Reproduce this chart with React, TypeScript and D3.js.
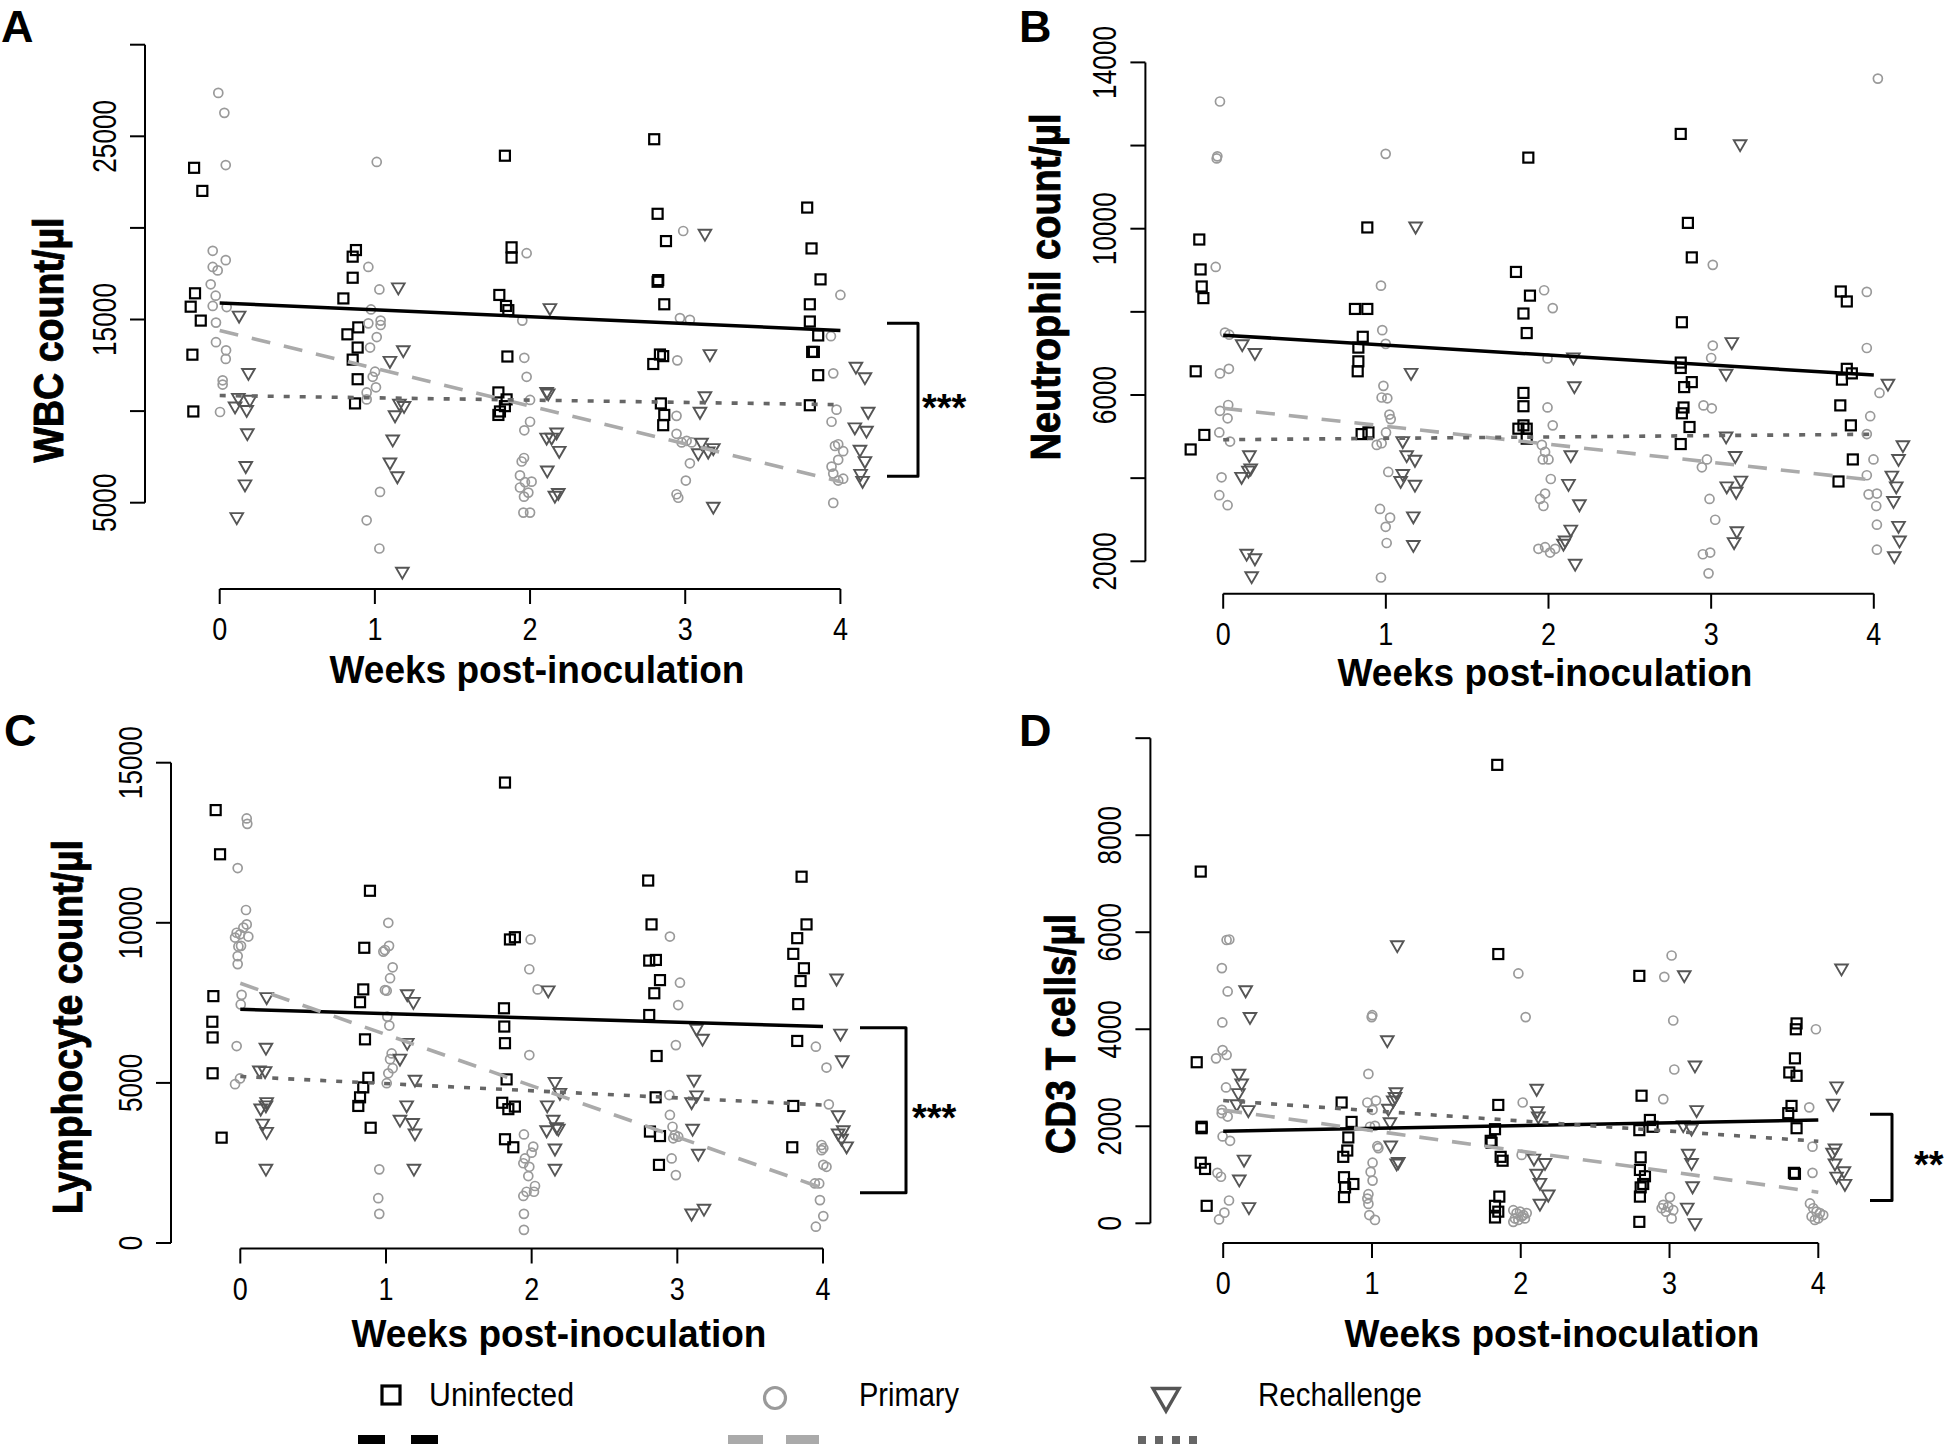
import * as React from 'react';
import * as d3 from 'd3';

type Pt = [number, number];

// x = week (+ jitter as drawn), y = cells/µl

// ---------- A: WBC ----------
const wbcUninfected: Pt[] = [
  [-0.165, 23280], [-0.112, 22020], [-0.159, 16430], [-0.187, 15700], [-0.122, 14940], [-0.176, 13080], [-0.170, 9980],
  [0.878, 18790], [0.857, 18430], [0.857, 17280], [0.797, 16150], [0.893, 14570], [0.823, 14190], [0.889, 13470], [0.857, 12810], [0.889, 11740], [0.872, 10420],
  [1.838, 23940], [1.881, 18940], [1.881, 18380], [1.802, 16340], [1.845, 15740], [1.860, 15510], [1.854, 12980], [1.796, 11020], [1.849, 10640], [1.838, 10270], [1.806, 9980], [1.796, 9790],
  [2.800, 24840], [2.822, 20770], [2.876, 19280], [2.826, 17150], [2.822, 17060], [2.865, 15830], [2.837, 13090], [2.858, 13000], [2.794, 12570], [2.843, 10420], [2.865, 9790], [2.858, 9230],
  [3.786, 21110], [3.814, 18880], [3.872, 17190], [3.803, 15830], [3.803, 14890], [3.857, 14130], [3.818, 13230], [3.829, 13230], [3.857, 11960], [3.803, 10320],
];
const wbcPrimary: Pt[] = [
  [-0.009, 27370], [0.030, 26280], [0.039, 23430], [-0.045, 18750], [0.039, 18240], [-0.045, 17870], [-0.013, 17680], [-0.058, 16920], [-0.026, 16300], [-0.045, 15740], [0.045, 15680], [-0.024, 14830], [-0.024, 13760], [0.041, 13320], [0.039, 12850], [0.019, 11680], [0.019, 11450], [0.002, 9950],
  [1.012, 23600], [0.958, 17870], [1.029, 16640], [0.975, 15550], [0.958, 14790], [1.037, 14940], [1.037, 14700], [1.012, 14040], [0.969, 13470], [1.001, 12150], [0.986, 11870], [1.007, 11300], [0.947, 11020], [0.947, 10640], [1.033, 5590], [0.947, 4040], [1.029, 2500],
  [1.978, 18620], [1.950, 14940], [1.963, 12910], [1.978, 11870], [2.000, 10610], [2.000, 9420], [1.963, 8950], [1.961, 7440], [1.946, 7250], [1.935, 6490], [2.010, 6150], [1.967, 6120], [1.935, 5830], [1.989, 5550], [1.961, 5330], [1.957, 4460], [2.000, 4460],
  [2.987, 19830], [2.966, 15080], [3.030, 14980], [2.949, 12770], [2.944, 9740], [2.944, 8760], [2.977, 8290], [3.009, 8380], [3.041, 8290], [3.030, 7150], [3.004, 6210], [2.944, 5460], [2.955, 5270],
  [4.000, 16340], [3.939, 14090], [3.954, 12060], [3.975, 10080], [3.943, 9420], [3.986, 8190], [4.018, 7810], [3.965, 8100], [3.986, 7340], [3.943, 6970], [3.954, 6590], [4.018, 6310], [3.986, 6210], [3.954, 4990],
];
const wbcRechallenge: Pt[] = [
  [0.125, 15230], [0.185, 12100], [0.120, 10740], [0.099, 10270], [0.195, 10640], [0.174, 10080], [0.178, 8810], [0.168, 7020], [0.163, 6020], [0.110, 4230],
  [1.151, 16770], [1.183, 13340], [1.097, 12760], [1.158, 10420], [1.188, 10300], [1.130, 9790], [1.115, 8470], [1.097, 7210], [1.145, 6460], [1.177, 1250],
  [2.128, 15640], [2.107, 11060], [2.117, 10980], [2.171, 8850], [2.107, 8570], [2.139, 8570], [2.188, 7850], [2.111, 6780], [2.182, 5550], [2.160, 5400],
  [3.127, 19700], [3.159, 13130], [3.127, 10830], [3.095, 9980], [3.105, 8290], [3.084, 7720], [3.148, 7810], [3.181, 8000], [3.181, 4800],
  [4.100, 12440], [4.158, 11870], [4.179, 9980], [4.093, 9130], [4.168, 8950], [4.126, 7910], [4.158, 7290], [4.130, 6590], [4.143, 6210],
];
// fitted line values at week 0 and week 4: uninfected, primary, rechallenge
const wbcFits: Pt[] = [[15900, 14400], [14400, 6150], [10850, 10350]];
const wbcTicks = [5000, 10000, 15000, 20000, 25000, 30000];
const wbcTickLabels = ['5000', '', '15000', '', '25000', ''];
const wbcBracket: Pt = [14800, 6450];

// ---------- B: neutrophils ----------
const neuUninfected: Pt[] = [
  [-0.147, 9740], [-0.139, 9020], [-0.132, 8610], [-0.122, 8330], [-0.169, 6570], [-0.116, 5040], [-0.200, 4690],
  [0.886, 10030], [0.810, 8070], [0.886, 8070], [0.858, 7400], [0.831, 7140], [0.831, 6810], [0.827, 6570], [0.851, 5060], [0.893, 5100],
  [1.876, 11710], [1.800, 8960], [1.886, 8390], [1.846, 7960], [1.866, 7490], [1.846, 6050], [1.846, 5730], [1.846, 5270], [1.815, 5190], [1.866, 5190], [1.866, 4950],
  [2.813, 12280], [2.857, 10140], [2.881, 9310], [2.820, 7750], [2.813, 6780], [2.813, 6650], [2.834, 6190], [2.881, 6310], [2.830, 5700], [2.820, 5560], [2.867, 5230], [2.813, 4820],
  [3.797, 8490], [3.834, 8250], [3.834, 6630], [3.865, 6520], [3.804, 6370], [3.794, 5750], [3.859, 5270], [3.871, 4450], [3.783, 3920],
];
const neuPrimary: Pt[] = [
  [-0.020, 13060], [-0.036, 11740], [-0.040, 11690], [-0.046, 9080], [0.011, 7500], [0.037, 7450], [-0.020, 6520], [0.035, 6630], [0.031, 5760], [-0.020, 5620], [0.027, 5440], [-0.024, 5100], [0.042, 4880], [-0.010, 4020], [-0.024, 3590], [0.027, 3350],
  [0.999, 11800], [0.970, 8630], [0.978, 7560], [0.999, 7230], [0.985, 6220], [0.974, 5940], [1.009, 5920], [1.022, 5530], [1.030, 5420], [1.001, 5100], [0.974, 4840], [0.944, 4800], [1.015, 4150], [0.964, 3260], [1.026, 3050], [0.999, 2830], [1.005, 2440], [0.970, 1610],
  [1.973, 8520], [2.026, 8090], [1.994, 6880], [1.994, 5700], [2.026, 5270], [1.959, 4800], [1.979, 4630], [1.965, 4450], [2.000, 4450], [2.014, 3980], [1.979, 3630], [1.948, 3500], [1.969, 3330], [1.938, 2300], [1.979, 2340], [2.010, 2210], [2.041, 2300],
  [3.010, 9130], [3.010, 7190], [3.000, 6890], [2.953, 5750], [3.004, 5680], [2.974, 4450], [2.943, 4260], [2.990, 3500], [3.025, 3000], [2.949, 2170], [2.994, 2210], [2.984, 1710],
  [4.025, 13610], [3.957, 8480], [3.957, 7130], [4.035, 6050], [3.978, 5490], [3.957, 5060], [3.998, 4450], [3.957, 4070], [4.019, 3630], [3.968, 3610], [4.015, 3330], [4.019, 2880], [4.019, 2280],
];
const neuRechallenge: Pt[] = [
  [0.117, 7230], [0.195, 7020], [0.161, 4560], [0.113, 4040], [0.155, 4190], [0.169, 4240], [0.144, 2190], [0.195, 2080], [0.175, 1650],
  [1.183, 10060], [1.155, 6540], [1.104, 4900], [1.128, 4560], [1.179, 4450], [1.104, 4110], [1.091, 3940], [1.179, 3850], [1.169, 3090], [1.169, 2400],
  [2.153, 6910], [2.159, 6220], [2.137, 4560], [2.123, 3870], [2.190, 3380], [2.137, 2770], [2.102, 2510], [2.092, 2430], [2.164, 1950],
  [3.178, 12040], [3.127, 7280], [3.092, 6520], [3.092, 5010], [3.148, 4540], [3.183, 3950], [3.096, 3810], [3.154, 3680], [3.158, 2730], [3.141, 2470],
  [4.087, 6280], [4.179, 4800], [4.152, 4470], [4.111, 4070], [4.138, 3810], [4.121, 3460], [4.152, 2860], [4.158, 2510], [4.126, 2130],
];
const neuFits: Pt[] = [[7440, 6480], [5680, 3950], [4925, 5056]];
const neuTicks = [2000, 4000, 6000, 8000, 10000, 12000, 14000];
const neuTickLabels = ['2000', '', '6000', '', '10000', '', '14000'];

// ---------- C: lymphocytes ----------
const lymUninfected: Pt[] = [
  [-0.169, 13520], [-0.139, 12140], [-0.185, 7710], [-0.192, 6910], [-0.190, 6420], [-0.190, 5300], [-0.128, 3290],
  [0.890, 11000], [0.851, 9220], [0.844, 7920], [0.822, 7520], [0.856, 6360], [0.879, 5160], [0.844, 4860], [0.822, 4550], [0.810, 4280], [0.895, 3600],
  [1.817, 14380], [1.851, 9480], [1.885, 9550], [1.810, 7330], [1.812, 6760], [1.817, 6240], [1.828, 5110], [1.798, 4380], [1.840, 4180], [1.885, 4260], [1.817, 3240], [1.874, 2990],
  [2.800, 11320], [2.823, 9950], [2.807, 8820], [2.853, 8840], [2.881, 8210], [2.842, 7800], [2.807, 7120], [2.858, 5840], [2.851, 4550], [2.812, 3480], [2.881, 3340], [2.874, 2440],
  [3.853, 11440], [3.887, 9950], [3.823, 9520], [3.796, 9030], [3.869, 8580], [3.846, 8180], [3.830, 7460], [3.823, 6310], [3.796, 4280], [3.789, 2990],
];
const lymPrimary: Pt[] = [
  [0.044, 13260], [0.048, 13090], [-0.018, 11710], [0.039, 10400], [0.044, 9950], [0.021, 9850], [-0.025, 9690], [-0.002, 9640], [0.055, 9570], [-0.036, 9540], [0.005, 9280], [-0.013, 9260], [-0.018, 8960], [-0.018, 8710], [0.009, 7750], [0.003, 7450], [-0.025, 6150], [-0.002, 5140], [-0.036, 4960],
  [1.016, 10000], [1.021, 9280], [0.982, 9100], [0.993, 9150], [1.046, 8610], [1.028, 8270], [0.993, 7900], [1.005, 7880], [1.009, 7070], [1.023, 6790], [1.039, 5920], [1.028, 5740], [1.046, 5460], [1.016, 5300], [1.005, 4990], [0.954, 2300], [0.947, 1400], [0.954, 910],
  [1.993, 9480], [1.984, 8550], [2.041, 7920], [1.984, 5870], [1.947, 3390], [2.011, 3010], [2.000, 2820], [1.954, 2640], [1.943, 2490], [1.984, 2380], [1.977, 2090], [2.023, 1780], [1.965, 1600], [2.016, 1600], [1.943, 1470], [1.947, 910], [1.947, 410],
  [2.949, 9570], [3.018, 8130], [3.006, 7430], [2.990, 6180], [2.945, 4620], [2.949, 4000], [2.967, 3630], [2.983, 3370], [3.006, 3320], [2.972, 3270], [2.961, 2640], [2.990, 2120],
  [3.951, 6130], [4.024, 5480], [4.040, 4330], [3.990, 3060], [4.002, 2960], [3.990, 2900], [4.002, 2440], [4.024, 2380], [3.944, 1860], [3.974, 1860], [3.979, 1340], [4.002, 840], [3.951, 510],
];
const lymRechallenge: Pt[] = [
  [0.181, 7690], [0.176, 6110], [0.131, 5400], [0.170, 5380], [0.181, 4410], [0.140, 4210], [0.176, 4310], [0.154, 3740], [0.181, 3480], [0.176, 2330],
  [1.146, 7780], [1.188, 7540], [1.146, 6260], [1.096, 5770], [1.199, 5110], [1.142, 4310], [1.096, 3860], [1.183, 3760], [1.199, 3430], [1.192, 2330],
  [2.114, 7900], [2.160, 5040], [2.194, 4700], [2.107, 4310], [2.148, 3860], [2.171, 3630], [2.103, 3530], [2.183, 3580], [2.160, 2960], [2.160, 2330],
  [3.132, 6700], [3.173, 6390], [3.114, 5110], [3.132, 4620], [3.098, 4410], [3.105, 3580], [3.144, 2800], [3.098, 930], [3.183, 1080],
  [4.093, 8270], [4.120, 6550], [4.132, 5720], [4.104, 4000], [4.104, 3430], [4.139, 3530], [4.127, 3270], [4.162, 3030],
];
const lymFits: Pt[] = [[7300, 6760], [8110, 1710], [5200, 4310]];
const lymTicks = [0, 5000, 10000, 15000];
const lymTickLabels = ['0', '5000', '10000', '15000'];
const lymBracket: Pt = [6720, 1570];

// ---------- D: CD3 T cells ----------
const cd3Uninfected: Pt[] = [
  [-0.151, 7250], [-0.178, 3320], [-0.145, 1990], [-0.145, 1960], [-0.151, 1250], [-0.122, 1120], [-0.111, 360],
  [0.796, 2490], [0.863, 2090], [0.841, 1770], [0.834, 1500], [0.807, 1370], [0.812, 950], [0.875, 810], [0.819, 740], [0.812, 540],
  [1.842, 9450], [1.849, 5550], [1.849, 2440], [1.827, 1940], [1.798, 1700], [1.804, 1660], [1.865, 1370], [1.878, 1290], [1.856, 550], [1.827, 360], [1.849, 240], [1.827, 120],
  [2.797, 5100], [2.812, 2630], [2.868, 2130], [2.886, 1990], [2.797, 1920], [2.806, 1360], [2.801, 1100], [2.835, 970], [2.823, 810], [2.806, 740], [2.801, 550], [2.797, 30],
  [3.854, 4120], [3.849, 4000], [3.843, 3400], [3.805, 3110], [3.854, 3040], [3.820, 2420], [3.798, 2270], [3.854, 1960], [3.836, 1040], [3.843, 1020],
];
const cd3Primary: Pt[] = [
  [0.023, 5840], [0.041, 5850], [-0.009, 5260], [0.030, 4780], [-0.006, 4140], [-0.004, 3570], [0.023, 3470], [-0.048, 3400], [0.019, 2800], [-0.009, 2340], [-0.010, 2270], [0.030, 2200], [-0.004, 1790], [0.046, 1700], [-0.039, 1040], [-0.015, 960], [0.039, 470], [0.008, 220], [-0.028, 80],
  [1.002, 4290], [0.998, 4250], [0.976, 3080], [0.969, 2490], [1.027, 2530], [1.004, 2340], [1.020, 2010], [0.987, 1990], [1.036, 1590], [1.043, 1550], [1.004, 1250], [0.991, 1060], [1.004, 880], [0.976, 600], [0.969, 510], [0.976, 400], [0.982, 170], [1.020, 70],
  [1.984, 5150], [2.033, 4250], [2.013, 2490], [2.006, 1410], [1.950, 270], [1.972, 210], [1.995, 240], [2.017, 170], [2.040, 210], [1.961, 100], [1.984, 70], [2.006, 140], [2.028, 100], [1.950, 30],
  [3.014, 5520], [2.965, 5080], [3.025, 4180], [3.032, 3170], [2.958, 2560], [3.003, 540], [2.958, 380], [2.991, 340], [3.025, 270], [2.976, 240], [3.014, 100], [2.947, 310],
  [3.984, 4000], [3.939, 2390], [3.961, 1580], [3.961, 1040], [3.944, 410], [3.966, 310], [3.988, 240], [4.011, 210], [3.955, 140], [3.999, 100], [3.977, 70], [4.033, 170],
];
const cd3Rechallenge: Pt[] = [
  [0.151, 4810], [0.180, 4260], [0.106, 3090], [0.124, 2890], [0.102, 2690], [0.091, 2460], [0.169, 2340], [0.140, 1320], [0.108, 910], [0.173, 340],
  [1.170, 5740], [1.103, 3780], [1.161, 2710], [1.155, 2610], [1.143, 2540], [1.110, 2370], [1.121, 2090], [1.126, 1610], [1.177, 1270], [1.166, 1240],
  [2.107, 2780], [2.111, 2320], [2.118, 2210], [2.089, 1340], [2.163, 1250], [2.107, 1030], [2.129, 840], [2.185, 600], [2.129, 410],
  [3.099, 5120], [3.171, 3260], [3.182, 2340], [3.092, 2030], [3.148, 1960], [3.126, 1440], [3.148, 1250], [3.155, 770], [3.119, 330], [3.171, 10],
  [4.156, 5260], [4.123, 2830], [4.100, 2470], [4.112, 1550], [4.096, 1460], [4.112, 1240], [4.172, 1080], [4.123, 970], [4.179, 820],
];
const cd3Fits: Pt[] = [[1900, 2130], [2335, 640], [2530, 1690]];
const cd3Ticks = [0, 2000, 4000, 6000, 8000, 10000];
const cd3TickLabels = ['0', '2000', '4000', '6000', '8000', ''];
const cd3Bracket: Pt = [2250, 470];

const weeks = [0, 1, 2, 3, 4];
const groupNames = ['Uninfected', 'Primary', 'Rechallenge'];

const NARROW = "'Liberation Sans Narrow', 'Liberation Sans', Arial, sans-serif";
const BOLD = "'Liberation Sans', Arial, sans-serif";
const PRIMARY_GREY = '#9a9a9a';
const RECH_GREY = '#555';

const triPath = (cx: number, cy: number, r: number) => {
  const p = d3.path();
  p.moveTo(cx - r * 0.866, cy - r / 2);
  p.lineTo(cx + r * 0.866, cy - r / 2);
  p.lineTo(cx, cy + r);
  p.closePath();
  return p.toString();
};

function Panel(props: any) {
  const { cfg, uninf, prim, rech, fits, ticks, tickLabels, bracket } = props;
  const x = d3.scaleLinear().domain([0, 4]).range([cfg.x0, cfg.x4]);
  const y = d3.scaleLinear().domain(cfg.yDomain).range(cfg.yRange);
  const line = d3.line<Pt>().x(d => x(d[0])).y(d => y(d[1]));
  const fitStyles = [
    { stroke: '#000', dash: undefined, w: 3.5 },
    { stroke: '#aaa', dash: '19 14', w: 3.6 },
    { stroke: '#666', dash: '6 10', w: 3.6 },
  ];
  const yT = ticks as number[];
  return (
    <g>
      <text x={cfg.letterX} y={cfg.letterY} fontFamily={BOLD} fontWeight="bold" fontSize={45}>{cfg.letter}</text>

      {/* y axis */}
      <line x1={cfg.yAxisX} x2={cfg.yAxisX} y1={y(yT[0])} y2={y(yT[yT.length - 1])} stroke="#000" strokeWidth={2} />
      {yT.map((t, i) => (
        <g key={'yt' + i}>
          <line x1={cfg.yAxisX - 15} x2={cfg.yAxisX} y1={y(t)} y2={y(t)} stroke="#000" strokeWidth={2} />
          {tickLabels[i] && (
            <text transform={`translate(${cfg.yAxisX - 29},${y(t)}) rotate(-90)`} textAnchor="middle"
              fontFamily={NARROW} fontSize={33} textLength={tickLabels[i].length * 14.6} lengthAdjust="spacingAndGlyphs">{tickLabels[i]}</text>
          )}
        </g>
      ))}

      {/* x axis */}
      <line x1={x(0)} x2={x(4)} y1={cfg.xAxisY} y2={cfg.xAxisY} stroke="#000" strokeWidth={2} />
      {weeks.map(w => (
        <g key={'xt' + w}>
          <line x1={x(w)} x2={x(w)} y1={cfg.xAxisY} y2={cfg.xAxisY + 15} stroke="#000" strokeWidth={2} />
          <text x={x(w)} y={cfg.xAxisY + 51} textAnchor="middle" fontFamily={NARROW} fontSize={31}
            textLength={15} lengthAdjust="spacingAndGlyphs">{w}</text>
        </g>
      ))}

      <text x={cfg.xTitleX} y={cfg.xTitleY} textAnchor="middle" fontFamily={BOLD} fontWeight="bold" fontSize={39}
        textLength={415} lengthAdjust="spacingAndGlyphs">Weeks post-inoculation</text>
      <text transform={`translate(${cfg.yTitleX},${cfg.yTitleY}) rotate(-90)`} textAnchor="middle"
        fontFamily={BOLD} fontWeight="bold" fontSize={42} stroke="#000" strokeWidth={0.9}
        textLength={cfg.yTitleLen} lengthAdjust="spacingAndGlyphs">{cfg.yTitle}</text>

      {/* points */}
      {(uninf as Pt[]).map((d, i) => (
        <rect key={'u' + i} x={x(d[0]) - 5} y={y(d[1]) - 5} width={10} height={10} fill="none" stroke="#000" strokeWidth={2.2} />
      ))}
      {(prim as Pt[]).map((d, i) => (
        <circle key={'p' + i} cx={x(d[0])} cy={y(d[1])} r={4.5} fill="none" stroke={PRIMARY_GREY} strokeWidth={1.7} />
      ))}
      {(rech as Pt[]).map((d, i) => (
        <path key={'r' + i} d={triPath(x(d[0]), y(d[1]), 7.3)} fill="none" stroke={RECH_GREY} strokeWidth={1.9} />
      ))}

      {/* fitted lines */}
      {(fits as Pt[]).map((f, i) => (
        <path key={'f' + i} d={line([[0, f[0]], [4, f[1]]]) || ''} fill="none" stroke={fitStyles[i].stroke}
          strokeWidth={fitStyles[i].w} strokeDasharray={fitStyles[i].dash} />
      ))}

      {bracket && (
        <g>
          <path d={`M${cfg.bx1},${y(bracket[0])} H${cfg.bx2} V${y(bracket[1])} H${cfg.bx1}`} fill="none" stroke="#000"
            strokeWidth={3} strokeLinejoin="round" />
          <text x={cfg.starX} y={(y(bracket[0]) + y(bracket[1])) / 2 + 21} fontFamily={BOLD} fontWeight="bold" fontSize={38}>{cfg.stars}</text>
        </g>
      )}
    </g>
  );
}

const cfgA = {
  letter: 'A', letterX: 1, letterY: 42, x0: 219.7, x4: 840.4, yDomain: [5000, 25000], yRange: [502.7, 136.3],
  yAxisX: 145, xAxisY: 589, xTitleX: 537, xTitleY: 683, yTitleX: 63, yTitleY: 340, yTitle: 'WBC count/µl', yTitleLen: 245,
  bx1: 887, bx2: 918, starX: 922, stars: '***',
};
const cfgB = {
  letter: 'B', letterX: 1019, letterY: 42, x0: 1223.2, x4: 1873.8, yDomain: [2000, 14000], yRange: [561.3, 62.4],
  yAxisX: 1145.4, xAxisY: 593.7, xTitleX: 1545, xTitleY: 686, yTitleX: 1060, yTitleY: 287, yTitle: 'Neutrophil count/µl', yTitleLen: 347,
};
const cfgC = {
  letter: 'C', letterX: 4, letterY: 746, x0: 240.3, x4: 823, yDomain: [0, 15000], yRange: [1243, 762.7],
  yAxisX: 171, xAxisY: 1248.5, xTitleX: 559, xTitleY: 1347, yTitleX: 82, yTitleY: 1027, yTitle: 'Lymphocyte count/µl', yTitleLen: 374,
  bx1: 860, bx2: 906, starX: 912, stars: '***',
};
const cfgD = {
  letter: 'D', letterX: 1019, letterY: 746, x0: 1223.2, x4: 1818.3, yDomain: [0, 8000], yRange: [1223.3, 835.2],
  yAxisX: 1150.4, xAxisY: 1243, xTitleX: 1552, xTitleY: 1347, yTitleX: 1075, yTitleY: 1034, yTitle: 'CD3 T cells/µl', yTitleLen: 240,
  bx1: 1870, bx2: 1892, starX: 1914, stars: '**',
};

function Legend() {
  const legendX = d3.scaleOrdinal<string, number>().domain(groupNames).range([391, 775, 1166]);
  const textX = d3.scaleOrdinal<string, number>().domain(groupNames).range([429, 859, 1258]);
  const textW = d3.scaleOrdinal<string, number>().domain(groupNames).range([145, 100, 164]);
  const ly = 1395;
  const lineY = 1440;
  return (
    <g>
      <rect x={legendX('Uninfected') - 9} y={ly - 9} width={18} height={18} fill="none" stroke="#000" strokeWidth={3.2} />
      <circle cx={legendX('Primary')} cy={ly + 3} r={10.5} fill="none" stroke={PRIMARY_GREY} strokeWidth={3.2} />
      <path d={triPath(legendX('Rechallenge'), ly + 1, 15)} fill="none" stroke={RECH_GREY} strokeWidth={3.4} />
      {groupNames.map(g => (
        <text key={g} x={textX(g)} y={ly + 11} fontFamily={NARROW} fontSize={33} textLength={textW(g)}
          lengthAdjust="spacingAndGlyphs">{g}</text>
      ))}
      <line x1={358} x2={439} y1={lineY} y2={lineY} stroke="#000" strokeWidth={10} strokeDasharray="27 26" />
      <line x1={728} x2={819} y1={lineY} y2={lineY} stroke="#aaa" strokeWidth={10} strokeDasharray="35 23" />
      <line x1={1138} x2={1200} y1={lineY} y2={lineY} stroke="#666" strokeWidth={8} strokeDasharray="8 9" />
    </g>
  );
}

export default function App() {
  return (
    <svg width={1946} height={1444} viewBox="0 0 1946 1444"
      style={{ position: 'absolute', left: 0, top: 0, background: '#fff' }}>
      <rect x={0} y={0} width={1946} height={1444} fill="#fff" />
      <Panel cfg={cfgA} uninf={wbcUninfected} prim={wbcPrimary} rech={wbcRechallenge} fits={wbcFits}
        ticks={wbcTicks} tickLabels={wbcTickLabels} bracket={wbcBracket} />
      <Panel cfg={cfgB} uninf={neuUninfected} prim={neuPrimary} rech={neuRechallenge} fits={neuFits}
        ticks={neuTicks} tickLabels={neuTickLabels} />
      <Panel cfg={cfgC} uninf={lymUninfected} prim={lymPrimary} rech={lymRechallenge} fits={lymFits}
        ticks={lymTicks} tickLabels={lymTickLabels} bracket={lymBracket} />
      <Panel cfg={cfgD} uninf={cd3Uninfected} prim={cd3Primary} rech={cd3Rechallenge} fits={cd3Fits}
        ticks={cd3Ticks} tickLabels={cd3TickLabels} bracket={cd3Bracket} />
      <Legend />
    </svg>
  );
}
